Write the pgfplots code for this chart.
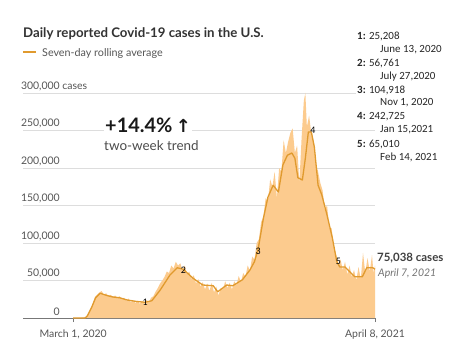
\documentclass[border=0pt]{standalone}
\usepackage{pgfplots}
\pgfplotsset{compat=1.18}
\usepackage{fontspec}
\setmainfont{Lato}
\newfontfamily\carl{Carlito}
\newfontfamily\dejavu{DejaVu Sans}
\definecolor{fillc}{HTML}{FCCB8E}
\definecolor{linec}{HTML}{E09A2E}
\definecolor{gridc}{HTML}{DDDDDD}
\definecolor{txtg}{HTML}{555555}
\definecolor{axg}{HTML}{777777}
\begin{document}
\begin{tikzpicture}[x=1bp,y=1bp]
\useasboundingbox[fill=white] (0,0) rectangle (475,356);
\begin{axis}[at={(23bp,38bp)}, anchor=south west, scale only axis,
  width=352bp, height=225bp, xmin=-67, xmax=403, ymin=0, ymax=300000, clip=false,
  axis x line=bottom, axis y line=left, axis line style={-},
  x axis line style={draw=axg, line width=0.9pt}, y axis line style={draw=none},
  scaled y ticks=false,
  ytick={0,50000,100000,150000,200000,250000,300000},
  yticklabels={0,{50,000},{100,000},{150,000},{200,000},{250,000},{300,000\rlap{ cases}}},
  ytick style={draw=none},
  yticklabel style={font=\fontsize{10.5}{12}\selectfont, text=txtg, anchor=south east, inner sep=0pt, xshift=41bp, yshift=2bp},
  ymajorgrids, grid style={gridc, line width=0.8pt},
  xtick={0,403}, xticklabels={{March 1, 2020},{April 8, 2021}},
  xtick style={draw=axg, line width=0.9pt}, tick align=outside, major tick length=4bp,
  xticklabel style={font=\fontsize{10.5}{12}\selectfont, text=txtg, anchor=base, yshift=-15bp},
]
\addplot[fill=fillc, draw=none] table {
0 0
10 200
14 600
17 2000
20 5000
23 10000
26 19000
29 28000
32 31000
35 34000
38 36000
41 31000
44 33000
47 29000
50 31000
53 28000
56 30000
59 27000
62 29000
65 25000
68 27000
71 23000
74 26000
77 21000
80 24000
83 20000
86 23000
89 19000
92 23000
95 19000
98 24000
101 21000
104 27000
107 29000
110 35000
113 40000
116 46000
119 50000
122 55000
125 62000
128 60000
131 70000
134 66000
137 75000
140 70000
143 73000
146 64000
149 70000
152 58000
155 62000
158 52000
161 57000
164 46000
167 52000
170 42000
173 48000
176 38000
179 46000
182 36000
185 47000
188 34000
191 42000
194 30000
197 40000
200 38000
203 49000
206 40000
209 47000
212 38000
215 49000
218 44000
221 56000
224 48000
227 60000
230 55000
233 70000
236 63000
239 82000
242 78000
245 100000
248 105000
251 128000
254 135000
257 160000
260 155000
263 185000
266 175000
269 195000
272 160000
275 200000
278 195000
281 237000
284 220000
287 235000
290 247000
293 253000
296 220000
299 230000
302 180000
305 240000
308 290000
310 300000
312 255000
315 270000
318 245000
321 235000
324 205000
327 195000
330 180000
333 170000
336 145000
339 150000
342 120000
345 120000
348 95000
351 85000
354 72000
357 78000
360 64000
363 75000
366 58000
369 70000
372 55000
375 64000
378 50000
381 68000
384 52000
387 87000
390 60000
393 80000
396 62000
399 84000
401 60000
403 70000
403 0
} \closedcycle;
\addplot[linec, line width=1.3pt, line join=round] table {
0 0
16 0
19 3000
25 15000
30 27000
36 33000
45 30000
53 28000
62 27000
72 24000
85 22000
96 21000
105 23000
116 37000
129 57000
139 67000
147 65000
160 53000
173 44000
187 43000
193 35000
205 44000
213 43000
226 51000
236 64000
242 75000
247 92000
254 133000
260 161000
267 177000
274 168000
280 204000
286 217000
292 220000
296 213000
300 187000
306 184000
310 213000
314 248000
318 248000
322 228000
327 177000
332 164000
339 137000
346 107000
352 75000
356 68000
363 68000
370 61000
376 55000
386 55000
392 67000
400 67000
403 65000
};
\node[font=\carl\fontsize{10}{11}\selectfont] at (axis cs:96,21000) {1};
\node[font=\carl\fontsize{10}{11}\selectfont] at (axis cs:147,64000) {2};
\node[font=\carl\fontsize{10}{11}\selectfont] at (axis cs:247,89000) {3};
\node[font=\carl\fontsize{10}{11}\selectfont] at (axis cs:320,250000) {4};
\node[font=\carl\fontsize{10}{11}\selectfont] at (axis cs:354,76000) {5};
\end{axis}
% titles
\node[anchor=base west, inner sep=0pt, font=\fontsize{13.3}{15}\selectfont\bfseries, text=black!80] at (23,318.5) {Daily reported Covid-19 cases in the U.S.};
\draw[linec, line width=1.6pt] (23,304) -- (36,304);
\node[anchor=base west, inner sep=0pt, font=\fontsize{10.8}{13}\selectfont, text=txtg] at (42,299.3) {Seven-day rolling average};
\node[anchor=base west, inner sep=1pt, fill=white, font=\fontsize{20}{22}\selectfont\bfseries, text=black!90] at (104,224) {+14.4\%\,{\dejavu\fontsize{18}{20}\selectfont ↑}};
\node[anchor=base west, inner sep=0pt, font=\fontsize{13.5}{15}\selectfont, text=black!70] at (104,205.3) {two-week trend};
% right annotations
\begin{scope}[every node/.style={anchor=west, inner sep=1pt, font=\carl\fontsize{11}{12}\selectfont, text=black!85}]
\node[fill=white] at (356,320) {\textbf{1:} 25,208};
\node at (379,306) {June 13, 2020};
\node[fill=white] at (356,293) {\textbf{2:} 56,761};
\node at (379,279) {July 27,2020};
\node[fill=white] at (356,266) {\textbf{3:} 104,918};
\node at (379,253) {Nov 1, 2020};
\node[fill=white] at (356,239) {\textbf{4:} 242,725};
\node at (379,226) {Jan 15,2021};
\node[fill=white] at (356,212) {\textbf{5:} 65,010};
\node at (379,199) {Feb 14, 2021};
\end{scope}
\node[anchor=base west, inner sep=0pt, font=\fontsize{11.5}{14}\selectfont\bfseries, text=black!75] at (377,94.3) {75,038 cases};
\node[anchor=base west, inner sep=0pt, font=\fontsize{10.5}{12}\selectfont\itshape, text=black!55] at (378,80) {April 7, 2021};
\end{tikzpicture}
\end{document}
